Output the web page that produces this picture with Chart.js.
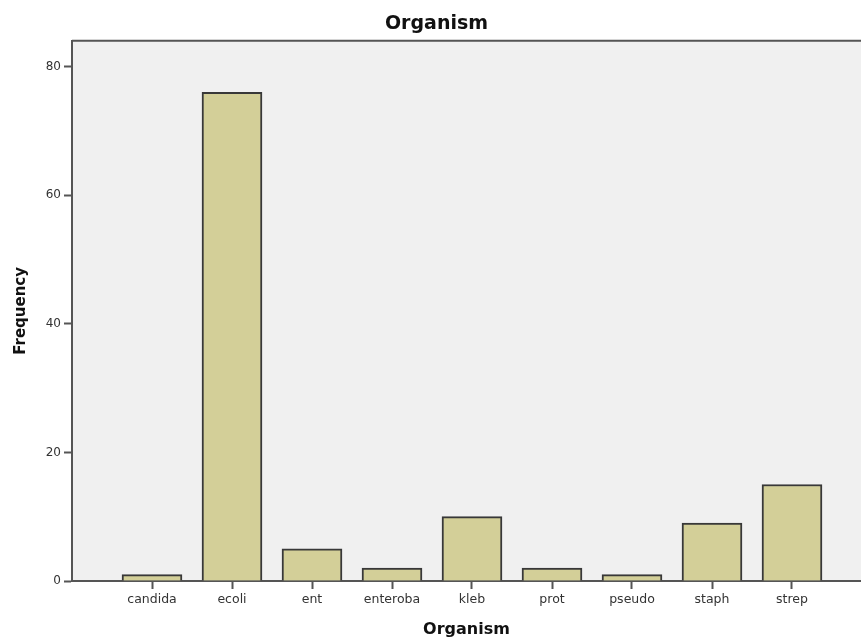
<!DOCTYPE html>
<html>
<head>
<meta charset="utf-8">
<script src="https://cdn.jsdelivr.net/npm/chart.js@4"></script>
<style>
    html, body { margin: 0; padding: 0; background: #fff; }
    canvas { display: block; }
</style>
</head>
<body>
<canvas id="organism_chart" width="861" height="639"></canvas>
<script>
const categories = ['candida', 'ecoli', 'ent', 'enteroba', 'kleb', 'prot', 'pseudo', 'staph', 'strep'];
const frequency = [1, 76, 5, 2, 10, 2, 1, 9, 15];
const yTicks = [0, 20, 40, 60, 80];

const AXIS_COLOR = '#555555';
const FONT = "'DejaVu Sans', Verdana, sans-serif";

// grey plot background and the top frame line
const plotFrame = {
    id: 'plotFrame',
    beforeDraw(chart) {
        const { ctx, chartArea: a } = chart;
        ctx.save();
        ctx.fillStyle = '#f0f0f0';
        ctx.fillRect(a.left, a.top, a.right - a.left, a.bottom - a.top);
        ctx.strokeStyle = AXIS_COLOR;
        ctx.lineWidth = 2;
        ctx.beginPath();
        ctx.moveTo(a.left, a.top);
        ctx.lineTo(a.right, a.top);
        ctx.stroke();
        ctx.restore();
    }
};

const ctx = document.getElementById('organism_chart');

new Chart(ctx, {
    type: 'bar',
    data: {
        datasets: [{
            label: 'Frequency',
            data: frequency.map((v, i) => ({ x: i, y: v })),
            backgroundColor: '#d3cf98',
            borderColor: '#383838',
            borderWidth: 2,
            barThickness: 60,
        }]
    },
    options: {
        responsive: false,
        devicePixelRatio: 1,
        animation: false,
        layout: { padding: { left: 12, right: 0, top: 0, bottom: 0 } },
        plugins: {
            legend: { display: false },
            tooltip: { enabled: false },
            title: {
                display: true,
                text: 'Organism',
                color: '#111',
                font: { family: FONT, size: 19, weight: 'bold' },
                padding: { top: 13, bottom: 5 }
            }
        },
        scales: {
            x: {
                type: 'linear',
                offset: false,
                min: -1,
                max: 8.8625,
                afterBuildTicks: (scale) => {
                    scale.ticks = categories.map((c, i) => ({ value: i }));
                },
                afterFit: (scale) => { scale.height = 58; },
                ticks: {
                    autoSkip: false,
                    maxRotation: 0,
                    padding: 3,
                    color: '#333',
                    font: { family: FONT, size: 12.5 },
                    callback: (value) => categories[value]
                },
                grid: {
                    offset: false,
                    drawOnChartArea: false,
                    drawTicks: true,
                    tickLength: 8,
                    tickColor: AXIS_COLOR,
                    tickWidth: 2
                },
                border: { color: AXIS_COLOR, width: 2 },
                title: {
                    display: true,
                    text: 'Organism',
                    color: '#111',
                    font: { family: FONT, size: 16, weight: 'bold' },
                    padding: { top: 0, bottom: 0 }
                }
            },
            y: {
                min: 0,
                max: 84,
                afterBuildTicks: (scale) => {
                    scale.ticks = yTicks.map(v => ({ value: v }));
                },
                afterFit: (scale) => { scale.width = 60; },
                ticks: {
                    padding: 3,
                    color: '#333',
                    font: { family: FONT, size: 12 }
                },
                grid: {
                    drawOnChartArea: false,
                    drawTicks: true,
                    tickLength: 8,
                    tickColor: AXIS_COLOR,
                    tickWidth: 2
                },
                border: { color: AXIS_COLOR, width: 2 },
                title: {
                    display: true,
                    text: 'Frequency',
                    color: '#111',
                    font: { family: FONT, size: 15, weight: 'bold' },
                    padding: { top: 0, bottom: 0 }
                }
            }
        }
    },
    plugins: [plotFrame]
});
</script>
</body>
</html>
